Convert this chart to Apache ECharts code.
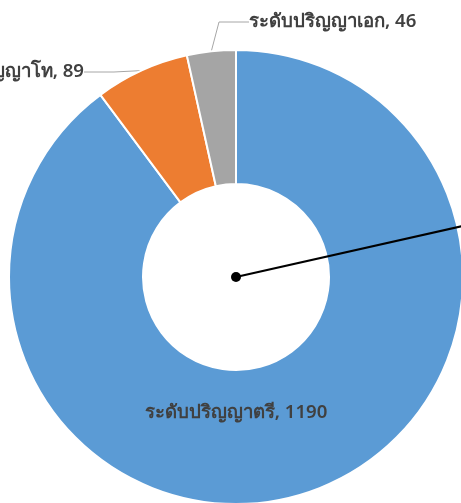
<!DOCTYPE html>
<html lang="th">
<head>
    <meta charset="UTF-8">
    <title>ระดับการศึกษา</title>
    <script src="https://cdn.jsdelivr.net/npm/echarts@6/dist/echarts.min.js"></script>
    <style>
        html, body { margin: 0; padding: 0; background: #fff; }
        #chart { width: 461px; height: 503px; }
    </style>
</head>
<body>
<div id="chart"></div>
<script>
    var categories = ['ระดับปริญญาตรี', 'ระดับปริญญาโท', 'ระดับปริญญาเอก'];
    var values = [1190, 89, 46];
    var colors = ['#5b9bd5', '#ed7d31', '#a5a5a5'];

    // where excel put the labels (by hand)
    var labelPos = [
        { x: 236, y: 413, align: 'center' },
        { x: 84, y: 72, align: 'right' },
        { x: 249, y: 22, align: 'left' }
    ];

    var cx = 236, cy = 277;

    var chart = echarts.init(document.getElementById('chart'));

    var data = categories.map(function (name, i) {
        var item = { name: name, value: values[i], itemStyle: { color: colors[i] } };
        if (i === 0) {
            item.label = { position: 'inside' };
            item.labelLine = { show: false };
        }
        return item;
    });

    chart.setOption({
        animation: false,
        series: [{
            type: 'pie',
            center: [cx, cy],
            radius: [93, 227],
            startAngle: 90,
            clockwise: true,
            avoidLabelOverlap: false,
            itemStyle: { borderColor: '#fff', borderWidth: 2 },
            label: {
                show: true,
                position: 'outside',
                formatter: '{b}, {c}',
                color: '#404040',
                fontSize: 18.6,
                fontWeight: 600,
                fontFamily: 'Noto Sans, sans-serif'
            },
            labelLine: {
                show: true,
                lineStyle: { color: '#a6a6a6', width: 1 }
            },
            labelLayout: function (params) {
                var p = labelPos[params.dataIndex];
                return { x: p.x, y: p.y, align: p.align, verticalAlign: 'middle' };
            },
            emphasis: { disabled: true },
            data: data
        }],
        graphic: [{
            type: 'line',
            shape: { x1: cx, y1: cy, x2: cx + 240, y2: cy - 54 },
            style: { stroke: '#000', lineWidth: 2 },
            z: 100
        }, {
            type: 'circle',
            shape: { cx: cx, cy: cy, r: 5 },
            style: { fill: '#000' },
            z: 100
        }]
    });
</script>
</body>
</html>
